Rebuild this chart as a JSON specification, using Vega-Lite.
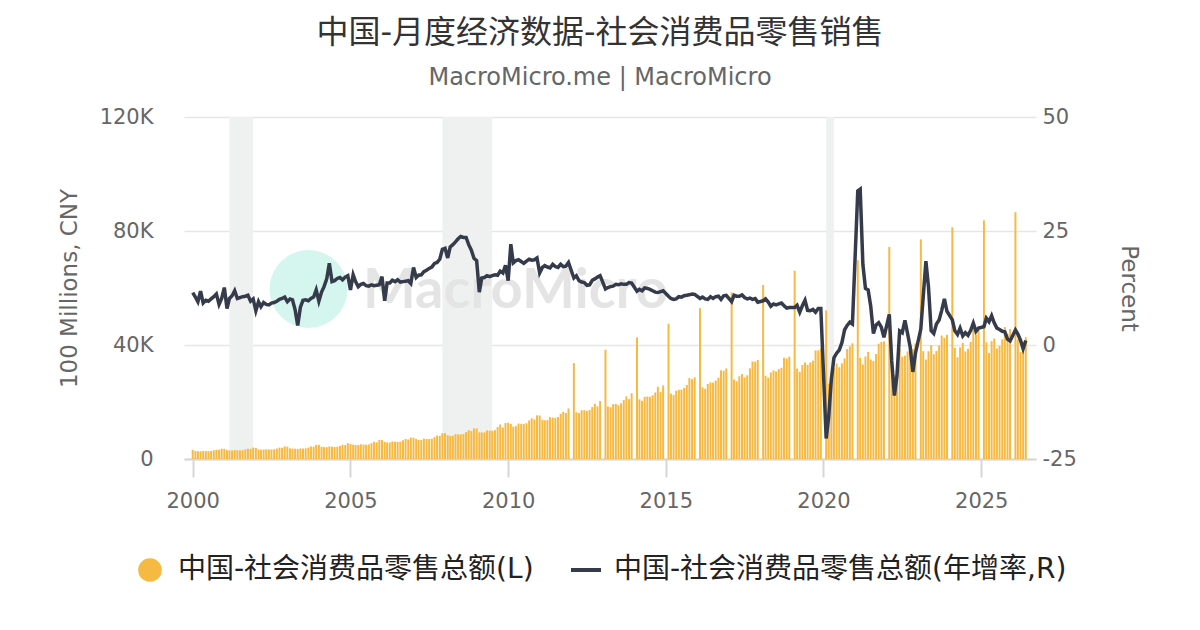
{
  "$schema": "https://vega.github.io/schema/vega-lite/v6.json",
  "width": 852,
  "height": 342,
  "autosize": {"type": "none"},
  "padding": {"left": 184, "top": 117, "right": 164, "bottom": 171},
  "background": "white",
  "title": {
    "text": "中国-月度经济数据-社会消费品零售销售",
    "subtitle": "MacroMicro.me | MacroMicro",
    "anchor": "middle",
    "dx": -10,
    "fontSize": 32,
    "fontWeight": "normal",
    "color": "#333333",
    "subtitleFontSize": 24,
    "subtitleColor": "#666666",
    "subtitlePadding": 16,
    "offset": 15
  },
  "datasets": {
    "sales": [
      {"d":"2000-01","v":3210,"y":11.5},{"d":"2000-02","v":2800,"y":10.5},{"d":"2000-03","v":2730,"y":9.5},{"d":"2000-04","v":2720,"y":11.8},
      {"d":"2000-05","v":2820,"y":9.2},{"d":"2000-06","v":2800,"y":9.8},{"d":"2000-07","v":2760,"y":9.6},{"d":"2000-08","v":2810,"y":10.1},
      {"d":"2000-09","v":3060,"y":10.6},{"d":"2000-10","v":3270,"y":11.2},{"d":"2000-11","v":3230,"y":8.9},{"d":"2000-12","v":3620,"y":10.2},
      {"d":"2001-01","v":3580,"y":12.6},{"d":"2001-02","v":3100,"y":8.0},{"d":"2001-03","v":3000,"y":10.2},{"d":"2001-04","v":3000,"y":10.8},
      {"d":"2001-05","v":3100,"y":11.9},{"d":"2001-06","v":3080,"y":10.2},{"d":"2001-07","v":3030,"y":10.4},{"d":"2001-08","v":3090,"y":10.6},
      {"d":"2001-09","v":3350,"y":10.7},{"d":"2001-10","v":3610,"y":10.9},{"d":"2001-11","v":3560,"y":9.6},{"d":"2001-12","v":3990,"y":10.1},
      {"d":"2002-01","v":3900,"y":7.5},{"d":"2002-02","v":3390,"y":9.5},{"d":"2002-03","v":3300,"y":8.4},{"d":"2002-04","v":3300,"y":9.3},
      {"d":"2002-05","v":3400,"y":8.9},{"d":"2002-06","v":3380,"y":8.8},{"d":"2002-07","v":3350,"y":9.2},{"d":"2002-08","v":3400,"y":9.3},
      {"d":"2002-09","v":3650,"y":9.6},{"d":"2002-10","v":3980,"y":10.0},{"d":"2002-11","v":3920,"y":10.2},{"d":"2002-12","v":4420,"y":10.5},
      {"d":"2003-01","v":4320,"y":9.5},{"d":"2003-02","v":3740,"y":10.1},{"d":"2003-03","v":3640,"y":9.9},{"d":"2003-04","v":3620,"y":7.7},
      {"d":"2003-05","v":3520,"y":4.3},{"d":"2003-06","v":3690,"y":8.3},{"d":"2003-07","v":3670,"y":9.8},{"d":"2003-08","v":3730,"y":9.9},
      {"d":"2003-09","v":4000,"y":9.7},{"d":"2003-10","v":4400,"y":10.2},{"d":"2003-11","v":4360,"y":10.5},{"d":"2003-12","v":5000,"y":12.1},
      {"d":"2004-01","v":4970,"y":9.6},{"d":"2004-02","v":4314,"y":11.6},{"d":"2004-03","v":4171,"y":12.8},{"d":"2004-04","v":4151,"y":14.5},
      {"d":"2004-05","v":4426,"y":17.9},{"d":"2004-06","v":4330,"y":13.9},{"d":"2004-07","v":4238,"y":14.1},{"d":"2004-08","v":4298,"y":14.6},
      {"d":"2004-09","v":4611,"y":14.8},{"d":"2004-10","v":5010,"y":14.3},{"d":"2004-11","v":4915,"y":14.9},{"d":"2004-12","v":5563,"y":15.2},
      {"d":"2005-01","v":5300,"y":12.1},{"d":"2005-02","v":5013,"y":15.4},{"d":"2005-03","v":4929,"y":13.9},{"d":"2005-04","v":4899,"y":12.8},
      {"d":"2005-05","v":5175,"y":13.3},{"d":"2005-06","v":5063,"y":13.5},{"d":"2005-07","v":5028,"y":13.0},{"d":"2005-08","v":5111,"y":12.9},
      {"d":"2005-09","v":5538,"y":13.2},{"d":"2005-10","v":6035,"y":13.0},{"d":"2005-11","v":5846,"y":13.1},{"d":"2005-12","v":6690,"y":13.2},
      {"d":"2006-01","v":6642,"y":15.0},{"d":"2006-02","v":6001,"y":9.7},{"d":"2006-03","v":5797,"y":13.6},{"d":"2006-04","v":5775,"y":13.6},
      {"d":"2006-05","v":6176,"y":14.2},{"d":"2006-06","v":6058,"y":13.9},{"d":"2006-07","v":5997,"y":14.3},{"d":"2006-08","v":6078,"y":13.8},
      {"d":"2006-09","v":6554,"y":13.9},{"d":"2006-10","v":7035,"y":14.0},{"d":"2006-11","v":6822,"y":14.1},{"d":"2006-12","v":7499,"y":13.5},
      {"d":"2007-01","v":7488,"y":17.0},{"d":"2007-02","v":7014,"y":14.8},{"d":"2007-03","v":6686,"y":15.3},{"d":"2007-04","v":6673,"y":15.4},
      {"d":"2007-05","v":7158,"y":16.1},{"d":"2007-06","v":7026,"y":16.4},{"d":"2007-07","v":6998,"y":16.8},{"d":"2007-08","v":7116,"y":17.1},
      {"d":"2007-09","v":7668,"y":17.9},{"d":"2007-10","v":8263,"y":18.1},{"d":"2007-11","v":8104,"y":18.8},{"d":"2007-12","v":9015,"y":21.0},
      {"d":"2008-01","v":9077,"y":21.2},{"d":"2008-02","v":8355,"y":19.1},{"d":"2008-03","v":8123,"y":21.5},{"d":"2008-04","v":8142,"y":22.0},
      {"d":"2008-05","v":8703,"y":22.6},{"d":"2008-06","v":8642,"y":23.3},{"d":"2008-07","v":8629,"y":23.8},{"d":"2008-08","v":8767,"y":23.6},
      {"d":"2008-09","v":9447,"y":23.6},{"d":"2008-10","v":10083,"y":22.0},{"d":"2008-11","v":9791,"y":20.8},{"d":"2008-12","v":10729,"y":19.0},
      {"d":"2009-01","v":10757,"y":18.5},{"d":"2009-02","v":9324,"y":11.6},{"d":"2009-03","v":9317,"y":14.7},{"d":"2009-04","v":9343,"y":14.8},
      {"d":"2009-05","v":10028,"y":15.2},{"d":"2009-06","v":9942,"y":15.0},{"d":"2009-07","v":9937,"y":15.2},{"d":"2009-08","v":10116,"y":15.4},
      {"d":"2009-09","v":11233,"y":15.3},{"d":"2009-10","v":12126,"y":16.2},{"d":"2009-11","v":11036,"y":15.8},{"d":"2009-12","v":12610,"y":17.5},
      {"d":"2010-01","v":12719,"y":14.1},{"d":"2010-02","v":12334,"y":22.1},{"d":"2010-03","v":11322,"y":18.0},{"d":"2010-04","v":11510,"y":18.5},
      {"d":"2010-05","v":12455,"y":18.7},{"d":"2010-06","v":12330,"y":18.3},{"d":"2010-07","v":12252,"y":17.9},{"d":"2010-08","v":12570,"y":18.4},
      {"d":"2010-09","v":13537,"y":18.8},{"d":"2010-10","v":14285,"y":18.6},{"d":"2010-11","v":13911,"y":18.7},{"d":"2010-12","v":15330,"y":19.1},
      {"d":"2011-01","v":15249,"y":15.8},{"d":"2011-02","v":13769,"y":17.0},{"d":"2011-03","v":13588,"y":17.4},{"d":"2011-04","v":13649,"y":17.1},
      {"d":"2011-05","v":14697,"y":16.9},{"d":"2011-06","v":14565,"y":17.7},{"d":"2011-07","v":14408,"y":17.2},{"d":"2011-08","v":14705,"y":17.0},
      {"d":"2011-09","v":15865,"y":17.7},{"d":"2011-10","v":16547,"y":17.2},{"d":"2011-11","v":16128,"y":17.3},{"d":"2011-12","v":17740,"y":18.1},
      {"d":"2012-02","v":33669,"y":14.7},{"d":"2012-03","v":16404,"y":15.2},{"d":"2012-04","v":16121,"y":14.1},{"d":"2012-05","v":17109,"y":13.8},
      {"d":"2012-06","v":17123,"y":13.7},{"d":"2012-07","v":16893,"y":13.1},{"d":"2012-08","v":17247,"y":13.2},{"d":"2012-09","v":18227,"y":14.2},
      {"d":"2012-10","v":19351,"y":14.5},{"d":"2012-11","v":18477,"y":14.9},{"d":"2012-12","v":20334,"y":15.2},
      {"d":"2013-02","v":38354,"y":12.3},{"d":"2013-03","v":18432,"y":12.6},{"d":"2013-04","v":18179,"y":12.8},{"d":"2013-05","v":19250,"y":12.9},
      {"d":"2013-06","v":19322,"y":13.3},{"d":"2013-07","v":18902,"y":13.2},{"d":"2013-08","v":19584,"y":13.4},{"d":"2013-09","v":20653,"y":13.3},
      {"d":"2013-10","v":21982,"y":13.3},{"d":"2013-11","v":21012,"y":13.7},{"d":"2013-12","v":23060,"y":13.6},
      {"d":"2014-02","v":42662,"y":11.8},{"d":"2014-03","v":20944,"y":12.2},{"d":"2014-04","v":20420,"y":11.9},{"d":"2014-05","v":21825,"y":12.5},
      {"d":"2014-06","v":21924,"y":12.4},{"d":"2014-07","v":21849,"y":12.2},{"d":"2014-08","v":22342,"y":11.9},{"d":"2014-09","v":23357,"y":11.6},
      {"d":"2014-10","v":25328,"y":11.5},{"d":"2014-11","v":23476,"y":11.7},{"d":"2014-12","v":25801,"y":11.9},
      {"d":"2015-02","v":47455,"y":10.7},{"d":"2015-03","v":22934,"y":10.2},{"d":"2015-04","v":22448,"y":10.0},{"d":"2015-05","v":23977,"y":10.1},
      {"d":"2015-06","v":24290,"y":10.6},{"d":"2015-07","v":24343,"y":10.5},{"d":"2015-08","v":24903,"y":10.8},{"d":"2015-09","v":25960,"y":10.9},
      {"d":"2015-10","v":28390,"y":11.0},{"d":"2015-11","v":27997,"y":11.2},{"d":"2015-12","v":28635,"y":11.1},
      {"d":"2016-02","v":52911,"y":10.2},{"d":"2016-03","v":25148,"y":10.5},{"d":"2016-04","v":24646,"y":10.1},{"d":"2016-05","v":26311,"y":10.0},
      {"d":"2016-06","v":26857,"y":10.6},{"d":"2016-07","v":26827,"y":10.2},{"d":"2016-08","v":27539,"y":10.6},{"d":"2016-09","v":28525,"y":10.7},
      {"d":"2016-10","v":31119,"y":10.0},{"d":"2016-11","v":30959,"y":10.8},{"d":"2016-12","v":31757,"y":10.9},
      {"d":"2017-02","v":58456,"y":9.5},{"d":"2017-03","v":27864,"y":10.9},{"d":"2017-04","v":27279,"y":10.7},{"d":"2017-05","v":29035,"y":10.7},
      {"d":"2017-06","v":29808,"y":11.0},{"d":"2017-07","v":28611,"y":10.4},{"d":"2017-08","v":29342,"y":10.1},{"d":"2017-09","v":31836,"y":10.3},
      {"d":"2017-10","v":34224,"y":10.0},{"d":"2017-11","v":34108,"y":10.2},{"d":"2017-12","v":34734,"y":9.4},
      {"d":"2018-02","v":61082,"y":9.7},{"d":"2018-03","v":29194,"y":10.1},{"d":"2018-04","v":28542,"y":9.4},{"d":"2018-05","v":30359,"y":8.5},
      {"d":"2018-06","v":31098,"y":9.0},{"d":"2018-07","v":30734,"y":8.8},{"d":"2018-08","v":31542,"y":9.0},{"d":"2018-09","v":32005,"y":9.2},
      {"d":"2018-10","v":35534,"y":8.6},{"d":"2018-11","v":35260,"y":8.1},{"d":"2018-12","v":35893,"y":8.2},
      {"d":"2019-02","v":66064,"y":8.2},{"d":"2019-03","v":31726,"y":8.7},{"d":"2019-04","v":30586,"y":7.2},{"d":"2019-05","v":32956,"y":8.6},
      {"d":"2019-06","v":33878,"y":9.8},{"d":"2019-07","v":33073,"y":7.6},{"d":"2019-08","v":33896,"y":7.5},{"d":"2019-09","v":34495,"y":7.8},
      {"d":"2019-10","v":38104,"y":7.2},{"d":"2019-11","v":38094,"y":8.0},{"d":"2019-12","v":38777,"y":8.0},
      {"d":"2020-02","v":52130,"y":-20.5},{"d":"2020-03","v":26450,"y":-15.8},{"d":"2020-04","v":28178,"y":-7.5},{"d":"2020-05","v":31973,"y":-2.8},
      {"d":"2020-06","v":33526,"y":-1.8},{"d":"2020-07","v":32203,"y":-1.1},{"d":"2020-08","v":33571,"y":0.5},{"d":"2020-09","v":35295,"y":3.3},
      {"d":"2020-10","v":38576,"y":4.3},{"d":"2020-11","v":39514,"y":5.0},{"d":"2020-12","v":40566,"y":4.6},
      {"d":"2021-02","v":69737,"y":33.8},{"d":"2021-03","v":35484,"y":34.2},{"d":"2021-04","v":33153,"y":17.7},{"d":"2021-05","v":35945,"y":12.4},
      {"d":"2021-06","v":37586,"y":12.1},{"d":"2021-07","v":34925,"y":8.5},{"d":"2021-08","v":34395,"y":2.5},{"d":"2021-09","v":36833,"y":4.4},
      {"d":"2021-10","v":40454,"y":4.9},{"d":"2021-11","v":41043,"y":3.9},{"d":"2021-12","v":41269,"y":1.7},
      {"d":"2022-02","v":74426,"y":6.7},{"d":"2022-03","v":34233,"y":-3.5},{"d":"2022-04","v":29483,"y":-11.1},{"d":"2022-05","v":33547,"y":-6.7},
      {"d":"2022-06","v":38742,"y":3.1},{"d":"2022-07","v":35870,"y":2.7},{"d":"2022-08","v":36258,"y":5.4},{"d":"2022-09","v":37745,"y":2.5},
      {"d":"2022-10","v":40271,"y":-0.5},{"d":"2022-11","v":38615,"y":-5.9},{"d":"2022-12","v":40542,"y":-1.8},
      {"d":"2023-02","v":77067,"y":3.5},{"d":"2023-03","v":37855,"y":10.6},{"d":"2023-04","v":34910,"y":18.4},{"d":"2023-05","v":37803,"y":12.7},
      {"d":"2023-06","v":39951,"y":3.1},{"d":"2023-07","v":36761,"y":2.5},{"d":"2023-08","v":37933,"y":4.6},{"d":"2023-09","v":39826,"y":5.5},
      {"d":"2023-10","v":43333,"y":7.6},{"d":"2023-11","v":42505,"y":10.1},{"d":"2023-12","v":43550,"y":7.4},
      {"d":"2024-02","v":81307,"y":5.5},{"d":"2024-03","v":39020,"y":3.1},{"d":"2024-04","v":35699,"y":2.3},{"d":"2024-05","v":39211,"y":3.7},
      {"d":"2024-06","v":40732,"y":2.0},{"d":"2024-07","v":37757,"y":2.7},{"d":"2024-08","v":38726,"y":2.1},{"d":"2024-09","v":41112,"y":3.2},
      {"d":"2024-10","v":45396,"y":4.8},{"d":"2024-11","v":43763,"y":3.0},{"d":"2024-12","v":45172,"y":3.7},
      {"d":"2025-02","v":83731,"y":4.0},{"d":"2025-03","v":40940,"y":5.9},{"d":"2025-04","v":37174,"y":5.1},{"d":"2025-05","v":41326,"y":6.4},
      {"d":"2025-06","v":42287,"y":4.8},{"d":"2025-07","v":38780,"y":3.7},{"d":"2025-08","v":39668,"y":3.4},{"d":"2025-09","v":41971,"y":3.0},
      {"d":"2025-10","v":46291,"y":2.9},{"d":"2025-11","v":43898,"y":1.3},{"d":"2025-12","v":45580,"y":0.9},
      {"d":"2026-02","v":86600,"y":3.3},{"d":"2026-03","v":41960,"y":2.4},{"d":"2026-04","v":37550,"y":1.0},{"d":"2026-05","v":41000,"y":-0.8},
      {"d":"2026-06","v":42700,"y":1.0}
    ],
    "recessions": [
      {"start": "2001-03-01", "end": "2001-11-30"},
      {"start": "2007-12-01", "end": "2009-06-30"},
      {"start": "2020-02-01", "end": "2020-04-30"}
    ]
  },
  "data": {"name": "sales"},
  "layer": [
    {
      "layer": [
        {
          "data": {"name": "recessions"},
          "mark": {"type": "rect", "color": "#eff1f1"},
          "encoding": {
            "x": {
              "field": "start",
              "type": "temporal",
              "title": null,
              "scale": {
                "domain": [{"year": 1999, "month": 9, "date": 22}, {"year": 2026, "month": 9, "date": 27}],
                "padding": 0
              }
            },
            "x2": {"field": "end"}
          }
        },
        {
          "data": {"values": [{}]},
          "mark": {"type": "point", "filled": true, "size": 6080, "color": "#d5f6ee", "opacity": 1},
          "encoding": {
            "x": {"datum": {"year": 2003, "month": 9, "date": 3}, "type": "temporal", "title": null},
            "y": {"datum": 59650, "type": "quantitative", "title": "100 Millions, CNY"}
          }
        },
        {
          "data": {"values": [{}]},
          "mark": {
            "type": "text",
            "text": "MacroMicro",
            "font": "Lato",
            "fontSize": 56,
            "fontWeight": "bold",
            "color": "#e4e4e4",
            "align": "left",
            "baseline": "alphabetic"
          },
          "encoding": {
            "x": {"datum": {"year": 2005, "month": 5, "date": 25}, "type": "temporal", "title": null},
            "y": {"datum": 53000, "type": "quantitative", "title": "100 Millions, CNY"}
          }
        },
        {
          "mark": {"type": "bar", "width": 2},
          "encoding": {
            "x": {
              "field": "d",
              "type": "temporal",
              "title": null,
              "axis": {
                "tickCount": {"interval": "year", "step": 5},
                "format": "%Y",
                "grid": false,
                "domain": true,
                "domainColor": "#d6d6d6",
                "domainWidth": 2,
                "ticks": true,
                "tickColor": "#d6d6d6",
                "tickWidth": 2,
                "tickSize": 18,
                "labelPadding": 13
              }
            },
            "y": {
              "field": "v",
              "type": "quantitative",
              "title": "100 Millions, CNY",
              "scale": {"domain": [0, 120000], "nice": false},
              "axis": {
                "orient": "left",
                "values": [0, 40000, 80000, 120000],
                "labelExpr": "datum.value === 0 ? '0' : (datum.value / 1000) + 'K'",
                "grid": true,
                "labelPadding": 31,
                "titlePadding": 18
              }
            },
            "color": {
              "datum": "中国-社会消费品零售总额(L)",
              "type": "nominal",
              "scale": {
                "domain": ["中国-社会消费品零售总额(L)", "中国-社会消费品零售总额(年增率,R)"],
                "range": ["#f6b942", "#363b4c"]
              },
              "legend": {
                "title": null,
                "orient": "none",
                "direction": "horizontal",
                "columns": 2,
                "legendX": -48,
                "legendY": 439,
                "labelFontSize": 28,
                "labelColor": "#222222",
                "labelLimit": 0,
                "labelOffset": 14,
                "columnPadding": 29,
                "symbolSize": 600,
                "encode": {
                  "symbols": {
                    "update": {
                      "shape": {"signal": "datum.index === 0 ? 'circle' : 'stroke'"},
                      "size": {"signal": "datum.index === 0 ? 560 : 900"},
                      "fill": {"signal": "datum.index === 0 ? '#f6b942' : 'transparent'"},
                      "stroke": {"signal": "datum.index === 0 ? '#f6b942' : '#363b4c'"},
                      "strokeWidth": {"signal": "datum.index === 0 ? 0 : 4"},
                      "opacity": {"value": 1}
                    }
                  }
                }
              }
            }
          }
        }
      ]
    },
    {
      "mark": {"type": "line", "strokeWidth": 3.5},
      "encoding": {
        "x": {"field": "d", "type": "temporal", "title": null},
        "y": {
          "field": "y",
          "type": "quantitative",
          "title": "Percent",
          "scale": {"domain": [-25, 50], "nice": false},
          "axis": {
            "orient": "right",
            "values": [-25, 0, 25, 50],
            "labelExpr": "'' + datum.value",
            "grid": false,
            "labelPadding": 6,
            "titlePadding": 40
          }
        },
        "color": {"datum": "中国-社会消费品零售总额(年增率,R)", "type": "nominal"}
      }
    }
  ],
  "resolve": {"scale": {"y": "independent"}},
  "config": {
    "font": "DejaVu Sans, Noto Sans CJK SC",
    "view": {"stroke": null},
    "axis": {
      "labelFontSize": 21,
      "titleFontSize": 23,
      "titleFontWeight": "normal",
      "labelColor": "#666666",
      "titleColor": "#666666",
      "gridColor": "#e6e6e6",
      "gridWidth": 1.5,
      "domain": false,
      "ticks": false,
      "tickSize": 0
    }
  }
}
